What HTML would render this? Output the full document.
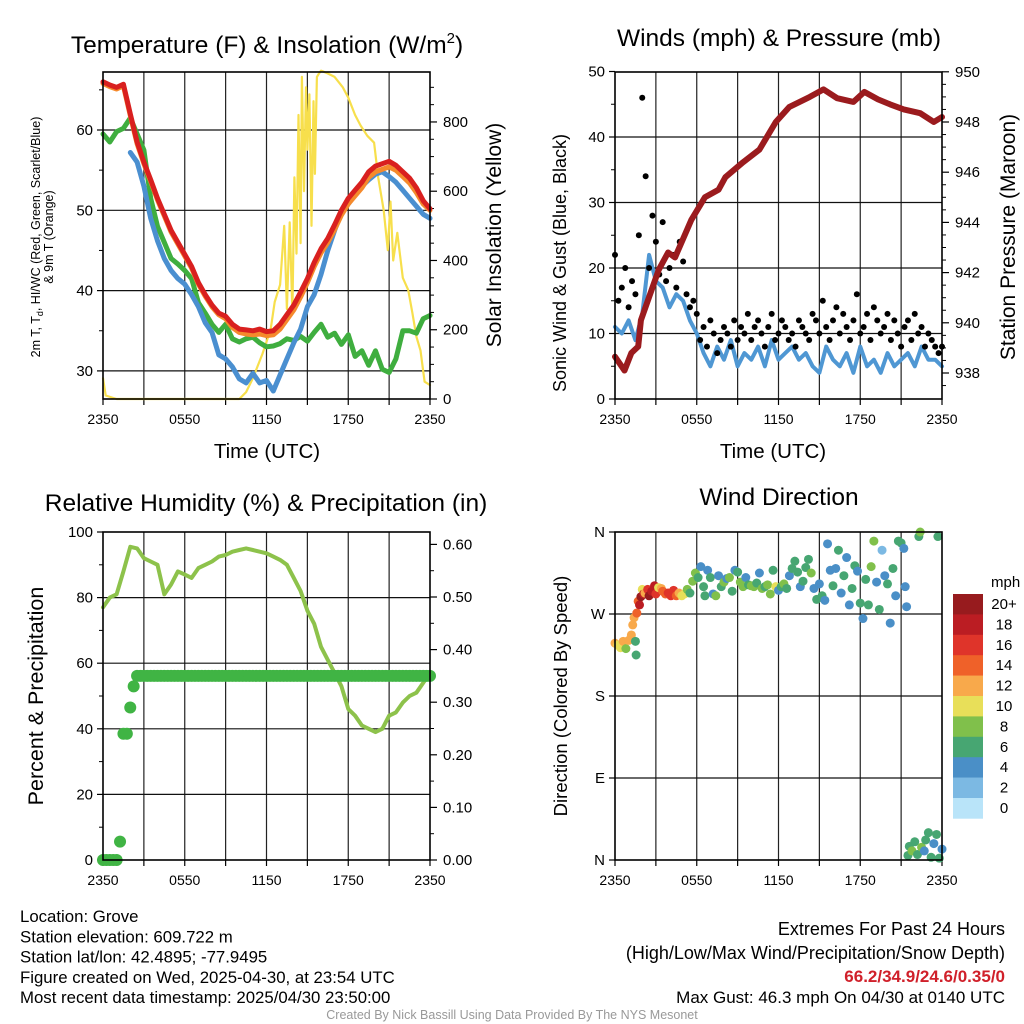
<!DOCTYPE html>
<html><head><meta charset="utf-8"><style>
body{margin:0;background:#fff;}
svg{display:block;font-family:"Liberation Sans",Arial,sans-serif;}
</style></head><body>
<svg id="chart" width="1024" height="1024" viewBox="0 0 1024 1024" xmlns="http://www.w3.org/2000/svg"></svg>
<script>
// ---------- DATA ----------
const timeTickLabels = ["2350","0550","1150","1750","2350"];
const tempRed = [66,65.6,65.3,65.7,62,58.5,56,53.8,51.5,49.5,47.5,46,44.5,43,41,39.5,38.2,37.2,36.8,35.8,35.2,35.1,35.0,35.2,34.9,35.0,35.8,37,38.2,39.8,41.5,43.5,45.2,46.5,48.2,50,51.5,52.5,53.5,54.8,55.5,55.8,56.1,55.6,54.8,54,52.8,51.2,50.2];
const tempOrange = [65.8,65.4,65.1,65.5,61.8,58.3,55.8,53.6,51.3,49.3,47.3,45.8,44.3,42.8,40.8,39.3,38,37,36.5,35.4,34.8,34.6,34.5,34.6,34.4,34.5,35.2,36.4,37.6,39.2,41,43,44.7,46,47.6,49.4,50.8,51.8,52.8,54.1,54.8,55.1,55.4,55,54.2,53.4,52.2,50.8,50];
const tempGreen = [59.5,58.5,59.8,60.2,61.5,59.5,57.5,51.5,48,46,44,43.3,42.5,41.5,38.5,37.2,35.8,34.8,35.8,34,33.6,34,34.2,33.5,33,33.1,33.4,34,33.8,34.3,33.7,34.8,35.8,34.2,34.7,33.3,34.5,31.8,32.5,30.7,32.5,30.2,29.8,31.5,35,35,34.7,36.5,36.9];
const tempBlue = [57.2,56,53,49,46.2,44,42.5,41.5,40.8,39.5,38,36,34.8,32,31.5,30.5,29,28.5,29.7,28.5,28.8,27.5,29.5,31.5,33.5,35.2,38,39.5,42,45,47.5,49.8,50.8,52,53,53.8,54.5,54.8,54.2,53.5,52.5,51.5,50.5,49.5,49];
const insolTimes = [0,0.2,1,10,10.5,11,11.7,12.3,12.6,13,13.3,13.5,13.7,13.9,14.05,14.2,14.35,14.5,14.6,14.75,14.9,15.0,15.15,15.3,15.45,15.55,15.7,15.85,16.0,16.2,16.5,17,17.6,18.0,18.5,18.9,19.4,19.9,20.2,20.6,20.9,21.1,21.3,21.6,22.0,22.4,22.7,23.0,23.3,23.6,24];
const insolValues = [60,10,0,0,20,60,130,200,280,330,500,260,510,250,640,420,820,450,930,600,900,720,880,500,860,650,930,940,948,945,940,930,900,870,820,790,760,740,640,545,430,570,400,480,350,315,250,180,140,50,40];
const windSpeed = [11,10,12,9,13,22,18,17,14,16,15,12,10,7,5,8,6,9,5,7,6,8,5,9,6,7,8,6,7,5,4,8,6,5,7,4,8,5,6,4,7,5,6,7,5,8,6,6,5];
const windGust = [22,15,17,20,14,18,16,25,46,34,20,28,24,19,27,18,20,22,17,24,21,16,14,15,13,9,11,8,12,10,7,9,11,10,8,12,9,11,10,13,9,11,12,10,8,11,13,9,10,12,11,9,10,8,12,11,10,9,13,12,10,15,11,9,12,14,10,13,11,9,12,16,10,11,13,9,14,12,10,11,13,9,12,10,8,11,12,9,13,10,11,8,10,9,8,7,8];
const pressTimes = [0,0.7,1.2,1.7,1.9,3.2,3.9,4.4,5.6,6.6,7.6,8.1,9.4,10.6,11.8,12.8,14.3,15.3,16.3,17.5,18.3,19.3,20.2,21.2,22.4,23.4,24];
const pressValues = [938.65,938.1,938.8,939.05,940.1,942.1,942.8,942.6,944.1,945.0,945.3,945.8,946.4,946.9,948.0,948.6,949.0,949.3,948.95,948.8,949.2,948.9,948.7,948.5,948.35,948.0,948.2];
const rhValues = [77,80,81,88,95.5,95,92,91,90,81,84,88,87,86,89,90,91,92.5,93,94,94.5,95,94.5,94,93.5,92.5,91.5,90,86,82,76,72,65,61,57,53,46,44,41,40,39,40,44,45,48,50,51,54,57];
const precipValues = [0,0,0,0,0,0.035,0.24,0.24,0.29,0.33,0.35,0.35,0.35,0.35,0.35,0.35,0.35,0.35,0.35,0.35,0.35,0.35,0.35,0.35,0.35,0.35,0.35,0.35,0.35,0.35,0.35,0.35,0.35,0.35,0.35,0.35,0.35,0.35,0.35,0.35,0.35,0.35,0.35,0.35,0.35,0.35,0.35,0.35,0.35,0.35,0.35,0.35,0.35,0.35,0.35,0.35,0.35,0.35,0.35,0.35,0.35,0.35,0.35,0.35,0.35,0.35,0.35,0.35,0.35,0.35,0.35,0.35,0.35,0.35,0.35,0.35,0.35,0.35,0.35,0.35,0.35,0.35,0.35,0.35,0.35,0.35,0.35,0.35,0.35,0.35,0.35,0.35,0.35,0.35,0.35,0.35,0.35];
const dirTimes = [0,0.2,0.4,0.6,0.8,1.0,1.2,1.3,1.4,1.5,1.55,1.6,1.7,1.8,1.9,2.0,2.1,2.2,2.4,2.5,2.7,2.9,3.0,3.2,3.4,3.5,3.7,3.9,4.1,4.3,4.5,4.7,4.9,5.1,5.3,5.5,5.7,5.9,6.1,6.3,6.5,6.6,6.8,7.0,7.2,7.4,7.6,7.8,8.0,8.2,8.4,8.6,8.8,9.0,9.2,9.4,9.6,9.8,10.0,10.2,10.4,10.6,10.8,11.0,11.2,11.4,11.6,11.8,12.0,12.2,12.4,12.6,12.8,13.0,13.2,13.4,13.6,13.8,14.0,14.2,14.4,14.6,14.8,15.0,15.2,15.4,15.6,15.8,16.0,16.2,16.4,16.6,16.8,17.0,17.2,17.4,17.6,17.8,18.0,18.2,18.4,18.6,18.8,19.0,19.2,19.4,19.6,19.8,20.0,20.2,20.4,20.6,20.8,21.0,21.2,21.3,21.4,21.5,21.6,21.8,22.0,22.2,22.3,22.4,22.5,22.7,22.8,23.0,23.2,23.4,23.6,23.7,23.8,24.0];
const dirDegrees = [238,236,233,240,232,241,247,258,266,240,225,271,284,280,289,297,292,293,297,290,295,301,292,299,298,295,292,293,290,296,290,293,290,292,297,293,306,315,310,322,300,290,318,310,292,290,312,300,305,309,310,295,318,316,305,300,310,302,301,300,304,315,298,300,302,292,318,300,296,300,303,298,312,320,328,316,300,306,321,330,315,298,286,303,290,285,347,318,301,320,340,293,312,332,280,298,323,317,282,265,308,280,322,350,305,275,340,312,303,260,320,290,350,348,342,300,278,5,15,10,20,6,355,360,14,10,22,30,3,18,28,355,2,12];
const dirSpeeds = [12,11,10,12,9,12,13,12,13,7,6,15,14,19,20,10,18,13,17,20,19,19,16,11,12,15,14,17,16,17,14,13,11,10,8,6,8,9,7,5,6,6,5,7,4,8,5,6,8,5,9,6,4,6,8,8,4,7,8,8,6,4,8,7,8,8,6,10,5,6,8,6,5,6,6,6,4,6,7,6,8,5,6,4,6,4,4,5,6,4,6,4,6,5,4,6,7,5,6,4,7,6,8,8,4,6,3,5,6,4,6,5,6,7,4,4,4,6,6,8,6,6,7,8,8,4,6,6,6,4,6,7,6,4];
const speedBinLabels = ["0","2","4","6","8","10","12","14","16","18","20+"];
const speedColors = ["#b9e4f9","#7cb9e3","#4a8fc7","#47a672","#80c04b","#e8df59","#f8a94b","#ef6129","#df342a","#bb1d23","#971b1e"];

// ---------- DRAW ----------
const NS="http://www.w3.org/2000/svg";
const svg=document.getElementById('chart');
function mk(tag,attrs,parent){const e=document.createElementNS(NS,tag);for(const k in attrs)e.setAttribute(k,attrs[k]);(parent||svg).appendChild(e);return e;}
function txt(s,x,y,size,anchor,parent,extra){const e=mk('text',Object.assign({x:x,y:y,'font-size':size,'text-anchor':anchor||'middle',fill:'#000'},extra||{}),parent);e.textContent=s;return e;}
const W=327;
const panels={p1:{x0:103,y0:72,y1:399},p2:{x0:615,y0:72,y1:399},p3:{x0:103,y0:532,y1:860},p4:{x0:615,y0:532,y1:860}};
function xs(p,t){return p.x0+t/24*W;}
function evenT(arr,i,start,end){return start+(end-start)*i/(arr.length-1);}

function frame(p,name,hGrid){
 const g=mk('g',{});
 
 
 for(let k=1;k<8;k++){const x=xs(p,k*3);mk('line',{x1:x,y1:p.y0,x2:x,y2:p.y1,stroke:'#222','stroke-width':1.2},g);}
 hGrid.forEach(y=>mk('line',{x1:p.x0,y1:y,x2:p.x0+W,y2:y,stroke:'#111','stroke-width':1.2},g));
 for(let k=0;k<=8;k++){const x=xs(p,k*3);mk('line',{x1:x,y1:p.y1,x2:x,y2:p.y1+6,stroke:'#000','stroke-width':1.2},g);}
 const tl=mk('g',{},g);
 
 
 timeTickLabels.forEach((s,i)=>txt(s,xs(p,i*6),p.y1+25,14,'middle',tl));
 return g;
}
function border(p){mk('rect',{x:p.x0,y:p.y0,width:W,height:p.y1-p.y0,fill:'none',stroke:'#000','stroke-width':1.6});}
function leftTicks(p,vals,yf,labels,minor){
 vals.forEach((v,i)=>{const y=yf(v);mk('line',{x1:p.x0-6,y1:y,x2:p.x0,y2:y,stroke:'#000','stroke-width':1.2});txt(labels[i],p.x0-10,y+5,15,'end');});
 (minor||[]).forEach(v=>{const y=yf(v);mk('line',{x1:p.x0-4,y1:y,x2:p.x0,y2:y,stroke:'#000','stroke-width':1});});
}
function rightTicks(p,vals,yf,labels,minor){
 const xr=p.x0+W;
 vals.forEach((v,i)=>{const y=yf(v);mk('line',{x1:xr,y1:y,x2:xr+7,y2:y,stroke:'#000','stroke-width':1.2});txt(labels[i],xr+13,y+5,15,'start');});
 (minor||[]).forEach(v=>{const y=yf(v);mk('line',{x1:xr,y1:y,x2:xr+4,y2:y,stroke:'#000','stroke-width':1});});
}
function line(pts,color,w,name){
 const e=mk('polyline',{points:pts.map(p=>p[0].toFixed(1)+','+p[1].toFixed(1)).join(' '),fill:'none',stroke:color,'stroke-width':w,'stroke-linejoin':'round','stroke-linecap':'round'});
 
 
 return e;
}
function rotText(s,x,y,size,name,dir){
 const e=txt(s,x,y,size,'middle',null,{transform:'rotate('+(dir||-90)+' '+x+' '+y+')'});
 
 
 return e;
}

// ===== Panel 1 =====
const p1=panels.p1;
const y1L=v=>130+(60-v)*8.03, y1R=v=>399-v*0.3463;
frame(p1,'temperature-panel',[30,40,50,60].map(y1L));
leftTicks(p1,[30,40,50,60],y1L,['30','40','50','60'],[35,45,55,65]);
rightTicks(p1,[0,200,400,600,800],y1R,['0','200','400','600','800'],[50,100,150,250,300,350,450,500,550,650,700,750,850,900]);
line(insolTimes.map((t,i)=>[xs(p1,t),y1R(insolValues[i])]),'#f7df4c',2.2,'insolation-line');
line(tempGreen.map((v,i)=>[xs(p1,evenT(tempGreen,i,0,24)),y1L(v)]),'#3fae3f',5,'dewpoint-line');
line(tempBlue.map((v,i)=>[xs(p1,evenT(tempBlue,i,2,24)),y1L(v)]),'#4a8fd0',5,'heat-index-wind-chill-line');
line(tempOrange.map((v,i)=>[xs(p1,evenT(tempOrange,i,0,24)),y1L(v)]),'#f58a2c',5,'temp-9m-line');
line(tempRed.map((v,i)=>[xs(p1,evenT(tempRed,i,0,24)),y1L(v)]),'#d9201f',5,'temp-2m-line');
border(p1);
(function(){const t=txt('',267,53,24.5,'middle');
 t.innerHTML='Temperature (F) &amp; Insolation (W/m<tspan dy="-10" font-size="15">2</tspan><tspan dy="10">)</tspan>';})();
txt('Time (UTC)',267,458,20.5);
(function(){const g=mk('g',{});
 const t=txt('',40,237,12.5,'middle',g,{transform:'rotate(-90 40 237)'});t.innerHTML='2m T, T<tspan dy="3" font-size="9">d</tspan><tspan dy="-3">, HI/WC (Red, Green, Scarlet/Blue)</tspan>';
 txt('& 9m T (Orange)',53,237,12.5,'middle',g,{transform:'rotate(-90 53 237)'});})();
rotText('Solar Insolation (Yellow)',501,235,21,'insolation-y-title');

// ===== Panel 2 =====
const p2=panels.p2;
const y2L=v=>399-v*6.55, y2R=p=>373-(p-938)*25.1;
frame(p2,'winds-panel',[10,20,30,40].map(y2L));
leftTicks(p2,[0,10,20,30,40,50],y2L,['0','10','20','30','40','50'],[5,15,25,35,45]);
rightTicks(p2,[938,940,942,944,946,948,950],y2R,['938','940','942','944','946','948','950'],[937.5,938.5,939,939.5,940.5,941,941.5,942.5,943,943.5,944.5,945,945.5,946.5,947,947.5,948.5,949,949.5]);
line(windSpeed.map((v,i)=>[xs(p2,evenT(windSpeed,i,0,24)),y2L(v)]),'#4f97d3',4,'sonic-wind-line');
(function(){const g=mk('g',{fill:'#000'});
 windGust.forEach((v,i)=>{const c=mk('circle',{cx:xs(p2,evenT(windGust,i,0,24)),cy:y2L(v),r:3},g);});})();
line(pressTimes.map((t,i)=>[xs(p2,t),y2R(pressValues[i])]),'#9b1b1e',6,'pressure-line');
border(p2);
txt('Winds (mph) & Pressure (mb)',779,46,24.5);
txt('Time (UTC)',773,458,20.5);
rotText('Sonic Wind & Gust (Blue, Black)',566,263,18,'wind-y-title');
rotText('Station Pressure (Maroon)',1015,237,21,'pressure-y-title');

// ===== Panel 3 =====
const p3=panels.p3;
const y3L=v=>860-v*3.28, y3R=v=>860-v*526;
frame(p3,'humidity-panel',[20,40,60,80].map(y3L));
leftTicks(p3,[0,20,40,60,80,100],y3L,['0','20','40','60','80','100'],[10,30,50,70,90]);
rightTicks(p3,[0,0.1,0.2,0.3,0.4,0.5,0.6],y3R,['0.00','0.10','0.20','0.30','0.40','0.50','0.60'],[0.05,0.15,0.25,0.35,0.45,0.55]);
line(rhValues.map((v,i)=>[xs(p3,evenT(rhValues,i,0,24)),y3L(v)]),'#8dc24b',4,'rh-line');
(function(){const g=mk('g',{fill:'#40b444'});
 precipValues.forEach((v,i)=>{const c=mk('circle',{cx:xs(p3,evenT(precipValues,i,0,24)),cy:y3R(v),r:6},g);});})();
border(p3);
txt('Relative Humidity (%) & Precipitation (in)',266,511,24.5);
rotText('Percent & Precipitation',43,696,21.5,'humidity-y-title');

// ===== Panel 4 =====
const p4=panels.p4;
const y4=d=>860-d*0.9111;
frame(p4,'direction-panel',[90,180,270].map(y4));
leftTicks(p4,[0,90,180,270,360],y4,['N','E','S','W','N'],[]);
(function(){const g=mk('g',{});
 dirTimes.forEach((t,i)=>{const b=Math.min(10,Math.floor(dirSpeeds[i]/2));
  const c=mk('circle',{cx:xs(p4,t),cy:y4(dirDegrees[i]),r:4.5,fill:speedColors[b]},g);
  });})();
border(p4);
txt('Wind Direction',779,505,24.5);
rotText('Direction (Colored By Speed)',567,696,18.5,'direction-y-title');
(function(){const g=mk('g',{});
 const top=594,h=20.4;
 txt('mph',991,587,15,'start',g);
 for(let k=0;k<11;k++){const idx=10-k;
  const r=mk('rect',{x:953,y:top+k*h,width:30,height:h+0.3,fill:speedColors[idx]},g);
  
  txt(speedBinLabels[idx],1004,top+k*h+15,15,'middle',g);}
})();

// ===== Footer =====
(function(){const g=mk('g',{});
 ['Location: Grove','Station elevation: 609.722 m','Station lat/lon: 42.4895; -77.9495','Figure created on Wed, 2025-04-30, at 23:54 UTC','Most recent data timestamp: 2025/04/30 23:50:00'].forEach((s,i)=>txt(s,20,922+i*20.3,16.8,'start',g));
 const r=mk('g',{});
 txt('Extremes For Past 24 Hours',1005,935,18,'end',r);
 txt('(High/Low/Max Wind/Precipitation/Snow Depth)',1005,959,18,'end',r);
 txt('66.2/34.9/24.6/0.35/0',1005,982,17,'end',r,{fill:'#d0202a','font-weight':'bold'});
 txt('Max Gust: 46.3 mph On 04/30 at 0140 UTC',1005,1003,17,'end',r);
 const c=txt('Created By Nick Bassill Using Data Provided By The NYS Mesonet',512,1019,12.5,'middle',null,{fill:'#999'});
 
})();
</script>
</body></html>
